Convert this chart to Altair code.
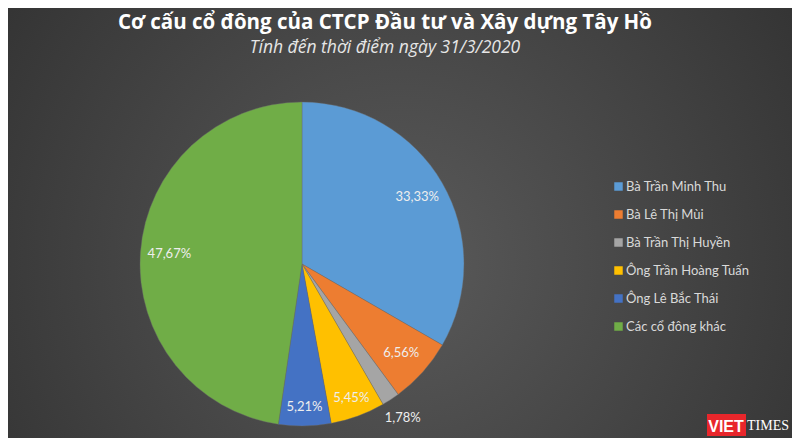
import altair as alt
import pandas as pd
import math

categories = ["Bà Trần Minh Thu", "Bà Lê Thị Mùi", "Bà Trần Thị Huyền",
              "Ông Trần Hoàng Tuấn", "Ông Lê Bắc Thái", "Các cổ đông khác"]
values = [33.33, 6.56, 1.78, 5.45, 5.21, 47.67]
colors = ["#5b9bd5", "#ed7d31", "#a5a5a5", "#ffc000", "#4472c4", "#70ad47"]

title_text = "Cơ cấu cổ đông của CTCP Đầu tư và Xây dựng Tây Hồ"
subtitle_text = "Tính đến thời điểm ngày 31/3/2020"

df = pd.DataFrame({"category": categories, "value": values,
                   "order": list(range(len(categories)))})

W, H = 784, 430
FONT = "Lato"
CX, CY = 294, 256
theta_scale = alt.Scale(domain=[0, 100], range=[0, 2 * math.pi])

bg = alt.Chart(alt.Data(values=[{}])).mark_rect(
    color={"gradient": "radial",
           "stops": [{"offset": 0, "color": "#5a5a5a"},
                     {"offset": 1, "color": "#2b2b2b"}],
           "x1": 0.5, "y1": 0.55, "r1": 0,
           "x2": 0.5, "y2": 0.55, "r2": 0.75}
).encode(x=alt.value(0), x2=alt.value(W), y=alt.value(0), y2=alt.value(H))

pie = alt.Chart(df).mark_arc(radius=162, stroke="#6a6a6a", strokeWidth=0.4).encode(
    theta=alt.Theta("value:Q", stack=True, scale=theta_scale),
    order=alt.Order("order:Q"),
    x=alt.value(CX), y=alt.value(CY),
    color=alt.Color("category:N",
                    scale=alt.Scale(domain=categories, range=colors),
                    legend=alt.Legend(orient="none", legendX=604, legendY=172,
                                      title=None, symbolType="square",
                                      symbolSize=72, symbolStrokeWidth=0,
                                      labelFont=FONT, labelFontSize=13,
                                      labelColor="#d9d9d9", labelOffset=1,
                                      rowPadding=14, labelLimit=300)),
)

labels = alt.Chart(df).transform_window(
    cum="sum(value)", sort=[alt.SortField("order")], frame=[None, 0]
).transform_calculate(
    mid="datum.cum - datum.value / 2",
    label="replace(format(datum.value, '.2f'), '.', ',') + '%'",
    lr="datum.value < 2 ? 184 : datum.value < 6 ? 143 : 133",
).mark_text(font=FONT, fontSize=13, color="#eeeeee").encode(
    theta=alt.Theta("mid:Q", stack=None, scale=theta_scale),
    radius=alt.Radius("lr:Q", scale=None),
    x=alt.value(CX), y=alt.value(CY),
    text="label:N",
)

logo_box = alt.Chart(alt.Data(values=[{}])).mark_rect(color="#e8262b").encode(
    x=alt.value(699), x2=alt.value(738), y=alt.value(406), y2=alt.value(428))
logo_a = alt.Chart(alt.Data(values=[{}])).mark_text(
    text="VIET", font="Liberation Sans", fontWeight="bold", fontSize=16,
    color="white", align="center", baseline="alphabetic").encode(
    x=alt.value(718), y=alt.value(424))
logo_b = alt.Chart(alt.Data(values=[{}])).mark_text(
    text="TIMES", font="Liberation Serif", fontSize=14,
    color="white", align="left", baseline="alphabetic").encode(
    x=alt.value(739), y=alt.value(422))

chart = alt.layer(bg, pie, labels, logo_box, logo_a, logo_b).properties(
    width=W, height=H,
    autosize=alt.AutoSizeParams(type="none"),
    padding=0,
    background="#2b2b2b",
    title=alt.TitleParams(text=title_text, subtitle=subtitle_text,
                          font="Open Sans", fontSize=20.5, fontWeight="bold",
                          color="white",
                          subtitleFont="Open Sans", subtitleFontSize=17.5,
                          subtitleFontStyle="italic", subtitleColor="#e6e6e6",
                          anchor="middle", frame="group", dx=-15, offset=-48,
                          subtitlePadding=5),
).configure_view(stroke=None)

chart.save("out.html", embed_options={"renderer": "svg", "actions": False})
